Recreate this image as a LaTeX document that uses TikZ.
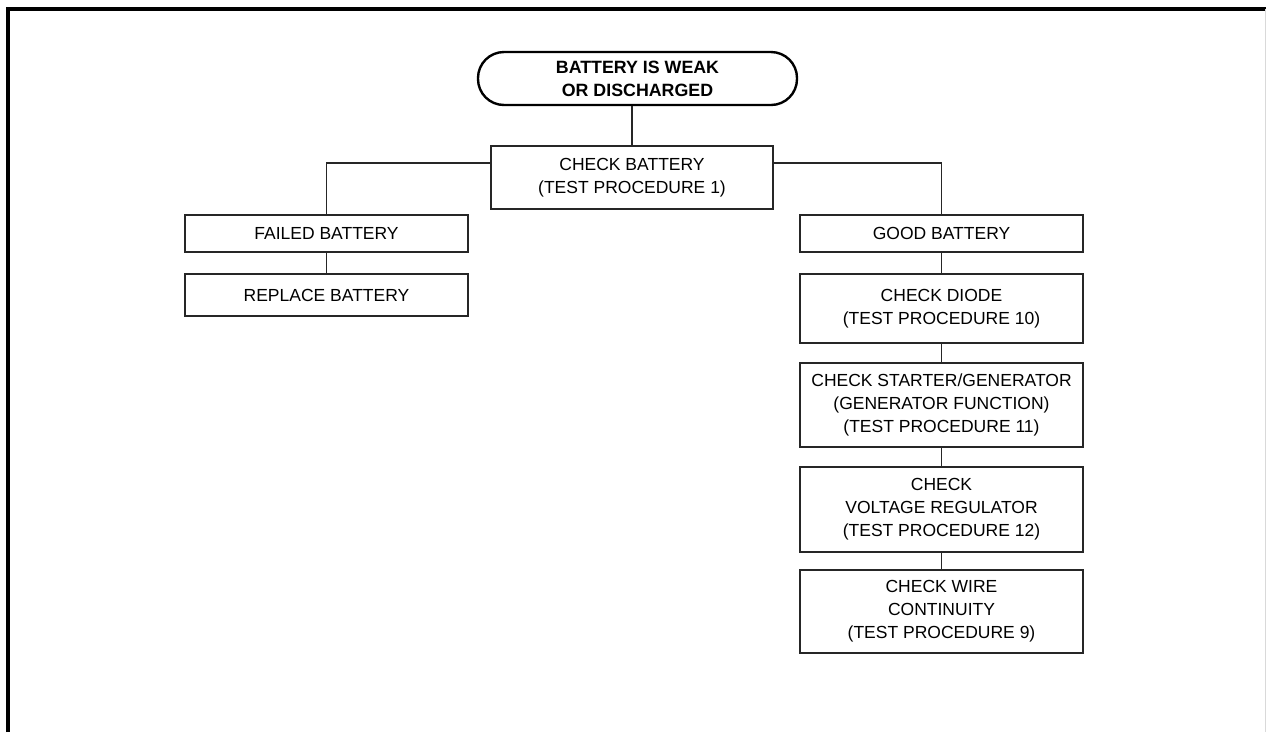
\documentclass[tikz,border=0pt]{standalone}
\usepackage{fontspec}
\setmainfont{Liberation Sans}
\usetikzlibrary{positioning}
\begin{document}
\begin{tikzpicture}[x=1pt,y=-1pt,
  box/.style={draw=black!85, line width=1.4pt, rectangle, align=center, inner sep=0pt,
    font=\fontsize{17.5}{23}\selectfont, minimum width=283pt},
  term/.style={draw=black, line width=2.4pt, rounded corners=26pt, align=center, inner sep=0pt,
    font=\fontsize{17.8}{23}\selectfont\bfseries, minimum width=319pt, minimum height=53pt},
  conn/.style={draw=black!85, line width=1.4pt},
  frame/.style={line width=4pt}]
\useasboundingbox (0,0) rectangle (1266,732);
% frame
\draw[frame] (8,732) -- (8,9) -- (1266,9);
\draw[gray!30, line width=1pt] (1265,9) -- (1265,732);
% nodes
\node[term] (t) at (637.5,78.5) {BATTERY IS WEAK\\OR DISCHARGED};
\node[box, minimum width=282pt, minimum height=63pt] (chk) at (632,177.5) {CHECK BATTERY\\(TEST PROCEDURE 1)};
\node[box, minimum height=37pt] (fail) at (326.5,233.5) {FAILED BATTERY};
\node[box, minimum height=42pt] (rep) at (326.5,295) {REPLACE BATTERY};
\node[box, minimum height=37pt] (good) at (941.5,233.5) {GOOD BATTERY};
\node[box, minimum height=69pt] (diode) at (941.5,308.5) {CHECK DIODE\\(TEST PROCEDURE 10)};
\node[box, minimum height=84pt] (start) at (941.5,405) {CHECK STARTER/GENERATOR\\(GENERATOR FUNCTION)\\(TEST PROCEDURE 11)};
\node[box, minimum height=85pt] (volt) at (941.5,509.5) {CHECK\\VOLTAGE REGULATOR\\(TEST PROCEDURE 12)};
\node[box, minimum height=83pt] (wire) at (941.5,611.5) {CHECK WIRE\\CONTINUITY\\(TEST PROCEDURE 9)};
\coordinate (hy) at (0,163);
% connectors
\draw[conn] (chk.north) -- (chk.north |- t.south);
\draw[conn] (chk.west |- hy) -| (fail.north);
\draw[conn] (chk.east |- hy) -| (good.north);
\draw[conn] (fail) -- (rep);
\draw[conn] (good) -- (diode);
\draw[conn] (diode) -- (start);
\draw[conn] (start) -- (volt);
\draw[conn] (volt) -- (wire);
\end{tikzpicture}
\end{document}
